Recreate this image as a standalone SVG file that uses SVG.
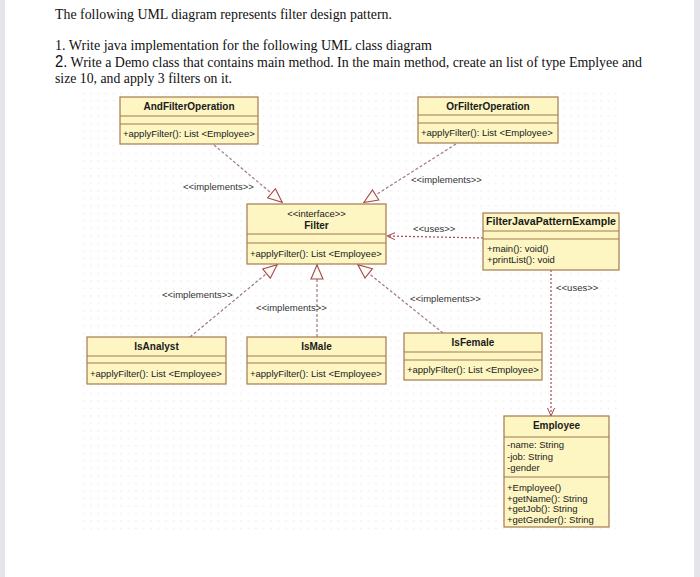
<svg xmlns="http://www.w3.org/2000/svg" width="700" height="577" viewBox="0 0 700 577">
<defs>
<pattern id="grid" x="80" y="90" width="7.5" height="7.5" patternUnits="userSpaceOnUse">
<rect x="3" y="3" width="1" height="1" fill="#dcdcdc"/>
</pattern>
<marker id="tri" viewBox="0 0 16 14" refX="16" refY="7" markerWidth="16" markerHeight="14" markerUnits="userSpaceOnUse" orient="auto">
<path d="M1,1 L15,7 L1,13 Z" fill="#fdfbf6" stroke="#a5474d" stroke-width="1.1"/>
</marker>
<marker id="open" viewBox="0 0 8 8" refX="8" refY="4" markerWidth="8" markerHeight="8" markerUnits="userSpaceOnUse" orient="auto">
<path d="M0,0.5 L8,4 L0,7.5" fill="none" stroke="#a5474d" stroke-width="1"/>
</marker>
<style>
.box{fill:#fdf5c2;stroke:#a47a4e;stroke-width:1.2}
.sep{stroke:#a47a4e;stroke-width:1.2}
.nm{font-family:"Liberation Sans",Arial,sans-serif;font-size:10px;font-weight:bold;fill:#1a1a1a;text-anchor:middle}
.tx{font-family:"Liberation Sans",Arial,sans-serif;font-size:9.5px;fill:#1a1a1a}
.lb{font-family:"Liberation Sans",Arial,sans-serif;font-size:9.5px;fill:#333}
.impl{fill:none;stroke:#a07a80;stroke-width:1.2;stroke-dasharray:3 2;marker-end:url(#tri)}
.use{fill:none;stroke:#a5474d;stroke-width:1.2;stroke-dasharray:2 2;marker-end:url(#open)}
.hd{font-family:"Liberation Serif","Times New Roman",serif;font-size:15px;fill:#111}
</style>
</defs>
<rect width="700" height="577" fill="#ffffff"/>
<rect x="0" y="0" width="5" height="577" fill="#e4e4ea"/>
<rect x="694" y="0" width="6" height="577" fill="#e4e4ea"/>
<rect x="80" y="90" width="543" height="445" fill="url(#grid)"/>

<g id="header">
<text class="hd" x="55" y="19" textLength="337" lengthAdjust="spacingAndGlyphs">The following UML diagram represents filter design pattern.</text>
<text class="hd" x="55" y="50" textLength="377" lengthAdjust="spacingAndGlyphs">1.  Write java implementation for the following UML class diagram</text>
<text class="hd" x="55" y="67" textLength="587" lengthAdjust="spacingAndGlyphs"><tspan font-family="Liberation Sans, Arial, sans-serif" font-size="16">2.</tspan> Write a Demo class that contains main method. In the main method, create an list of type Emplyee and</text>
<text class="hd" x="55" y="83" textLength="177" lengthAdjust="spacingAndGlyphs">size 10, and apply 3 filters on it.</text>
</g>

<g id="connectors">
<path class="impl" d="M214,145 L283,203"/>
<path class="impl" d="M456,144 L363,203"/>
<path class="impl" d="M190,337 L278,264"/>
<path class="impl" d="M317,337 L317,264"/>
<path class="impl" d="M443,333 L357,264"/>
<path class="use" d="M483,238 L387,236"/>
<path class="use" d="M551,270 L551,416"/>
<text class="lb" x="183" y="190">&lt;&lt;implements&gt;&gt;</text>
<text class="lb" x="411" y="183">&lt;&lt;implements&gt;&gt;</text>
<text class="lb" x="413" y="232">&lt;&lt;uses&gt;&gt;</text>
<text class="lb" x="556" y="291">&lt;&lt;uses&gt;&gt;</text>
<text class="lb" x="162" y="298">&lt;&lt;implements&gt;&gt;</text>
<text class="lb" x="256" y="311">&lt;&lt;implements&gt;&gt;</text>
<text class="lb" x="410" y="302">&lt;&lt;implements&gt;&gt;</text>
</g>

<g id="AndFilterOperation">
<rect class="box" x="120" y="97" width="138" height="47"/>
<line class="sep" x1="120" y1="116" x2="258" y2="116"/>
<line class="sep" x1="120" y1="124" x2="258" y2="124"/>
<text class="nm" x="189" y="110">AndFilterOperation</text>
<text class="tx" x="123" y="137">+applyFilter(): List &lt;Employee&gt;</text>
</g>

<g id="OrFilterOperation">
<rect class="box" x="418" y="97" width="140" height="46"/>
<line class="sep" x1="418" y1="115" x2="558" y2="115"/>
<line class="sep" x1="418" y1="123" x2="558" y2="123"/>
<text class="nm" x="488" y="110">OrFilterOperation</text>
<text class="tx" x="421" y="136">+applyFilter(): List &lt;Employee&gt;</text>
</g>

<g id="Filter">
<rect class="box" x="247" y="204" width="139" height="60"/>
<line class="sep" x1="247" y1="234" x2="386" y2="234"/>
<line class="sep" x1="247" y1="243" x2="386" y2="243"/>
<text class="tx" x="316.5" y="217" text-anchor="middle">&lt;&lt;interface&gt;&gt;</text>
<text class="nm" x="316.5" y="229">Filter</text>
<text class="tx" x="250" y="257">+applyFilter(): List &lt;Employee&gt;</text>
</g>

<g id="FilterJavaPatternExample">
<rect class="box" x="483" y="213" width="136" height="57"/>
<line class="sep" x1="483" y1="231" x2="619" y2="231"/>
<line class="sep" x1="483" y1="239" x2="619" y2="239"/>
<text class="nm" x="551" y="225" textLength="130" lengthAdjust="spacingAndGlyphs">FilterJavaPatternExample</text>
<text class="tx" x="487" y="252">+main(): void()</text>
<text class="tx" x="487" y="263">+printList(): void</text>
</g>

<g id="IsAnalyst">
<rect class="box" x="87" y="337" width="139" height="47"/>
<line class="sep" x1="87" y1="356" x2="226" y2="356"/>
<line class="sep" x1="87" y1="363" x2="226" y2="363"/>
<text class="nm" x="156.5" y="350">IsAnalyst</text>
<text class="tx" x="90" y="377">+applyFilter(): List &lt;Employee&gt;</text>
</g>

<g id="IsMale">
<rect class="box" x="247" y="337" width="139" height="47"/>
<line class="sep" x1="247" y1="356" x2="386" y2="356"/>
<line class="sep" x1="247" y1="363" x2="386" y2="363"/>
<text class="nm" x="316.5" y="350">IsMale</text>
<text class="tx" x="250" y="377">+applyFilter(): List &lt;Employee&gt;</text>
</g>

<g id="IsFemale">
<rect class="box" x="404" y="333" width="138" height="47"/>
<line class="sep" x1="404" y1="352" x2="542" y2="352"/>
<line class="sep" x1="404" y1="360" x2="542" y2="360"/>
<text class="nm" x="473" y="346">IsFemale</text>
<text class="tx" x="407" y="373">+applyFilter(): List &lt;Employee&gt;</text>
</g>

<g id="Employee">
<rect class="box" x="504" y="416" width="105" height="111"/>
<line class="sep" x1="504" y1="437" x2="609" y2="437"/>
<line class="sep" x1="504" y1="477" x2="609" y2="477"/>
<text class="nm" x="556.5" y="429">Employee</text>
<text class="tx" x="507" y="448">-name: String</text>
<text class="tx" x="507" y="460">-job: String</text>
<text class="tx" x="507" y="471">-gender</text>
<text class="tx" x="507" y="491">+Employee()</text>
<text class="tx" x="507" y="502">+getName(): String</text>
<text class="tx" x="507" y="512">+getJob(): String</text>
<text class="tx" x="507" y="523">+getGender(): String</text>
</g>
</svg>
